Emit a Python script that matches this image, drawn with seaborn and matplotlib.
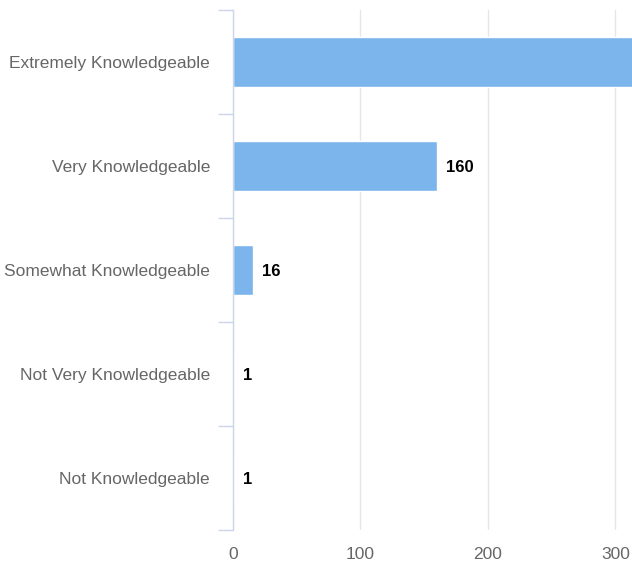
import matplotlib
matplotlib.use("Agg")
import matplotlib.pyplot as plt
import seaborn as sns
import pandas as pd
import numpy as np

categories = ["Extremely Knowledgeable", "Very Knowledgeable", "Somewhat Knowledgeable",
              "Not Very Knowledgeable", "Not Knowledgeable"]
values = [330, 160, 16, 1, 1]
x_ticks = [0, 100, 200, 300]

sns.set_theme(style="white")
plt.rcParams['font.family'] = ['Liberation Sans', 'DejaVu Sans']

df = pd.DataFrame({"category": categories, "value": values})

fig = plt.figure(figsize=(6.32, 5.66), dpi=100)
ax = fig.add_axes([233/632, 1 - 530/566, 1 - 233/632, 520/566])

sns.barplot(data=df, x="value", y="category", orient="h", color="#7cb5ec",
            saturation=1, width=0.49, edgecolor="white", linewidth=1, ax=ax, zorder=3)

ax.set_xlim(0, 313)
ax.set_ylim(len(categories) - 0.5, -0.5)
ax.set_xticks(x_ticks)
ax.set_xticklabels([str(t) for t in x_ticks], color="#666666", fontsize=12.5)
ax.tick_params(axis="x", length=0, pad=12.5)
ax.set_yticks(range(len(categories)))
ax.set_yticklabels(categories, color="#666666", fontsize=12.5)
ax.tick_params(axis="y", which="major", length=0, pad=16.5)
ax.set_yticks(np.arange(-0.5, len(categories), 1), minor=True)
ax.tick_params(axis="y", which="minor", length=11, width=1, color="#ccd6eb", left=True)
ax.grid(axis="x", color="#e6e6e6", linewidth=1, zorder=0)
ax.set_axisbelow(True)
for s in ["top", "right", "bottom"]:
    ax.spines[s].set_visible(False)
ax.spines["left"].set_color("#ccd6eb")
ax.spines["left"].set_linewidth(1)
ax.spines["left"].set_zorder(5)
ax.set_xlabel("")
ax.set_ylabel("")

for i, v in enumerate(values):
    if v < 313:
        ax.annotate(str(v), xy=(v, i), xytext=(6.5, -1.2), textcoords="offset points",
                    ha="left", va="center", fontsize=12, fontweight="bold", color="black")

fig.savefig("out.png", dpi=100)
